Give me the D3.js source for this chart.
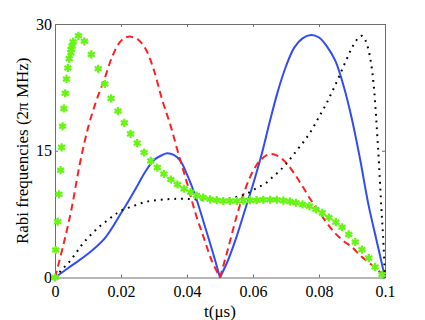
<!DOCTYPE html>
<html>
<head>
<meta charset="utf-8">
<script src="https://cdn.jsdelivr.net/npm/d3@7"></script>
<style>
  body { margin: 0; background: #fff; }
  svg text { font-family: "Liberation Serif", "Times New Roman", Times, "DejaVu Serif", serif; fill: #000; }
</style>
</head>
<body>
<div id="vis"></div>
<script>
// chart frame
const FRAME_WIDTH = 425;
const FRAME_HEIGHT = 320;
const MARGINS = {left: 55, right: 40, top: 24, bottom: 42.5};
const SERIF = "Liberation Serif, Times New Roman, Times, DejaVu Serif, serif";

// x / y tick labels
const xTicks = [0, 0.02, 0.04, 0.06, 0.08, 0.1];
const yTicks = [0, 15, 30];

// blue solid
const blueT = [0, 0.005, 0.01, 0.015, 0.02, 0.0225, 0.025, 0.0275, 0.03, 0.0325, 0.034, 0.036, 0.038, 0.04, 0.0425, 0.045, 0.0475, 0.05,
               0.0525, 0.055, 0.0575, 0.06, 0.0625, 0.065, 0.0675, 0.07, 0.0725, 0.075, 0.0776, 0.08, 0.0825, 0.085, 0.0875, 0.09, 0.0925, 0.095, 0.0975, 0.1];
const blueV = [0, 1.4, 2.8, 4.6, 7.6, 9.2, 10.9, 12.6, 13.9, 14.5, 14.7, 14.5, 13.8, 12.2, 9.7, 6.6, 3.4, 0,
               2.1, 4.8, 7.9, 11.0, 14.4, 18.3, 22.0, 25.0, 27.2, 28.3, 28.7, 28.4, 27.3, 25.6, 22.6, 18.7, 13.9, 8.6, 4.3, 0];

// red dashed
const redT = [0, 0.0025, 0.005, 0.0075, 0.01, 0.0125, 0.015, 0.0175, 0.02, 0.0222, 0.025, 0.0275, 0.03, 0.0325, 0.035, 0.0375, 0.04, 0.0425, 0.045, 0.0475, 0.05,
              0.0525, 0.055, 0.0575, 0.06, 0.0625, 0.065, 0.0675, 0.07, 0.0725, 0.075, 0.0775, 0.08, 0.0825, 0.085, 0.0875, 0.09, 0.0925, 0.095, 0.0975, 0.1];
const redV = [0, 3.8, 8.1, 13.4, 17.7, 20.9, 23.5, 26.3, 28.0, 28.5, 28.2, 27.0, 24.5, 21.0, 18.0, 14.5, 11.2, 7.7, 4.8, 2.0, 0,
              3.5, 7.2, 10.3, 12.6, 14.0, 14.6, 14.4, 13.6, 12.3, 10.8, 9.2, 7.8, 6.4, 5.2, 4.3, 3.6, 2.6, 1.8, 1.0, 0];

// black dotted
const blackT = [0, 0.002, 0.004, 0.006, 0.008, 0.01, 0.012, 0.014, 0.016, 0.018, 0.02, 0.024, 0.028, 0.032, 0.036, 0.04, 0.045, 0.05, 0.054, 0.056, 0.058, 0.06, 0.062,
                0.064, 0.066, 0.068, 0.07, 0.072, 0.074, 0.076, 0.078, 0.08, 0.082, 0.084, 0.086, 0.088, 0.09, 0.092, 0.093, 0.0939, 0.0949, 0.0958, 0.0966,
                0.0973, 0.0981, 0.0989, 0.0994, 0.1];
const blackV = [0, 0.9, 1.7, 2.7, 3.8, 4.7, 5.5, 6.2, 6.8, 7.4, 7.9, 8.5, 9.0, 9.2, 9.3, 9.3, 9.2, 9.2, 9.45, 9.65, 9.9, 10.35, 10.75,
                11.2, 11.9, 12.6, 13.4, 14.4, 15.4, 16.4, 17.6, 19.0, 20.4, 22.0, 23.7, 25.5, 27.2, 28.4, 28.6, 28.2, 27.1, 25.3, 22.7,
                19.0, 14.0, 8.2, 5.0, 0];

// green asterisks
const greenT = [0, 0.0002, 0.0008, 0.0012, 0.0017, 0.002, 0.0023, 0.0027, 0.0031, 0.0035, 0.0039, 0.0043, 0.0048, 0.0049, 0.0052, 0.0055,
                0.0071, 0.0089, 0.011, 0.0131, 0.0151, 0.017, 0.0191, 0.021, 0.0229, 0.0249, 0.027, 0.029, 0.031, 0.033, 0.0351, 0.0371,
                0.0391, 0.0411, 0.0429, 0.0449, 0.047, 0.049, 0.051, 0.053, 0.0551, 0.0571, 0.0591, 0.0611, 0.0631, 0.0652, 0.0672,
                0.0692, 0.0712, 0.073, 0.075, 0.0771, 0.0791, 0.081, 0.083, 0.0851, 0.087, 0.089, 0.091, 0.093, 0.0951, 0.097, 0.0991];
const greenV = [0, 3.25, 6.6, 9.85, 12.7, 15.4, 17.9, 20.0, 21.8, 23.5, 24.8, 25.9, 26.6, 27.0, 27.4, 27.9,
                28.6, 27.95, 26.4, 24.7, 22.9, 21.2, 19.7, 18.3, 17.0, 15.9, 14.8, 13.8, 13.0, 12.25, 11.6, 11.0,
                10.5, 10.1, 9.7, 9.45, 9.25, 9.15, 9.05, 9.05, 9.05, 9.1, 9.15, 9.15, 9.2, 9.2, 9.2,
                9.1, 9.0, 8.85, 8.65, 8.45, 8.05, 7.65, 7.1, 6.55, 5.95, 5.1, 4.2, 3.3, 2.3, 1.25, 0.35];

const VIS_WIDTH = FRAME_WIDTH - MARGINS.left - MARGINS.right;
const VIS_HEIGHT = FRAME_HEIGHT - MARGINS.top - MARGINS.bottom;

const FRAME = d3.select("#vis")
  .append("svg")
    .attr("width", FRAME_WIDTH)
    .attr("height", FRAME_HEIGHT)
    .attr("font-family", SERIF);

const X_SCALE = d3.scaleLinear().domain([0, 0.1]).range([MARGINS.left, MARGINS.left + VIS_WIDTH]);
const Y_SCALE = d3.scaleLinear().domain([0, 30]).range([MARGINS.top + VIS_HEIGHT, MARGINS.top]);

const fmtX = (d) => d === 0 ? "0" : String(+d.toFixed(2));

// axes box, ticks pointing in
const axisColor = "#6e6e6e";
function styleAxis(g) {
  g.attr("font-family", SERIF);
  g.selectAll(".domain").attr("stroke", axisColor);
  g.selectAll(".tick line").attr("stroke", axisColor);
  g.selectAll("text").attr("font-size", 16).attr("fill", "#000")
    .style("font-family", SERIF);
}

FRAME.append("g")
  .attr("transform", `translate(0,${MARGINS.top + VIS_HEIGHT})`)
  .call(d3.axisBottom(X_SCALE).tickValues(xTicks).tickFormat(fmtX).tickSizeInner(-3).tickSizeOuter(0).tickPadding(8))
  .call(styleAxis);

FRAME.append("g")
  .attr("transform", `translate(0,${MARGINS.top})`)
  .call(d3.axisTop(X_SCALE).tickValues(xTicks).tickFormat("").tickSizeInner(-3).tickSizeOuter(0))
  .call(styleAxis);

FRAME.append("g")
  .attr("transform", `translate(${MARGINS.left},0)`)
  .call(d3.axisLeft(Y_SCALE).tickValues(yTicks).tickFormat(d3.format("d")).tickSizeInner(-3).tickSizeOuter(0).tickPadding(3))
  .call(styleAxis);

FRAME.append("g")
  .attr("transform", `translate(${MARGINS.left + VIS_WIDTH},0)`)
  .call(d3.axisRight(Y_SCALE).tickValues(yTicks).tickFormat("").tickSizeInner(-3).tickSizeOuter(0))
  .call(styleAxis);

// helpers
const zip = (ts, vs) => ts.map((t, i) => ({t: t, v: vs[i]}));
const splitAt = (pts, t0) => [pts.filter(p => p.t <= t0), pts.filter(p => p.t >= t0)];
const catmull = d3.line().x(d => X_SCALE(d.t)).y(d => Y_SCALE(d.v)).curve(d3.curveCatmullRom.alpha(0.5));

// blue solid (two lobes)
splitAt(zip(blueT, blueV), 0.05).forEach(seg => {
  FRAME.append("path").datum(seg)
    .attr("d", catmull)
    .attr("fill", "none")
    .attr("stroke", "#2f4cf5")
    .attr("stroke-width", 2);
});

// red dashed (two lobes)
splitAt(zip(redT, redV), 0.05).forEach(seg => {
  FRAME.append("path").datum(seg)
    .attr("d", catmull)
    .attr("fill", "none")
    .attr("stroke", "#ff1f1f")
    .attr("stroke-width", 2)
    .attr("stroke-dasharray", "7,4.5");
});

// black dotted
FRAME.append("path").datum(zip(blackT, blackV))
  .attr("d", catmull)
  .attr("fill", "none")
  .attr("stroke", "#000")
  .attr("stroke-width", 2)
  .attr("stroke-dasharray", "1.8,5");

// green asterisk markers
FRAME.selectAll(".star")
  .data(zip(greenT, greenV))
  .enter()
  .append("path")
    .attr("class", "star")
    .attr("transform", d => `translate(${X_SCALE(d.t)},${Y_SCALE(d.v)})`)
    .attr("d", d3.symbol(d3.symbolAsterisk, 46))
    .attr("fill", "none")
    .attr("stroke", "#66f514")
    .attr("stroke-width", 2.3);

// axis titles
FRAME.append("text")
  .attr("x", X_SCALE(0.05))
  .attr("y", 317)
  .attr("text-anchor", "middle")
  .attr("font-size", 17)
  .style("font-family", SERIF)
  .text("t(\u03bcs)");

FRAME.append("text")
  .attr("transform", `translate(28,${Y_SCALE(15)}) rotate(-90)`)
  .attr("text-anchor", "middle")
  .attr("font-size", 17)
  .style("font-family", SERIF)
  .text("Rabi frequencies (2\u03c0 MHz)");
</script>
</body>
</html>
